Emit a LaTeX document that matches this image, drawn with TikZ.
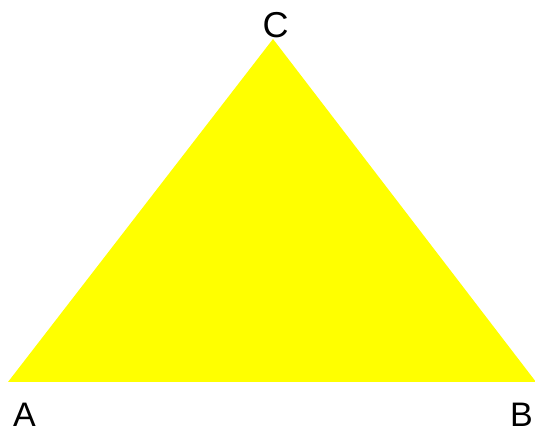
\documentclass[tikz,border=0pt]{standalone}
\usepackage{fontspec}
\setmainfont{Liberation Sans}
\definecolor{triyellow}{RGB}{255,255,0}
\begin{document}
\begin{tikzpicture}[x=1pt,y=1pt,
  vlabel/.style={font=\fontsize{36}{40}\selectfont, inner sep=0pt, text=black}]
\useasboundingbox (0,0) rectangle (535,430);
\coordinate (A) at (8,48);
\coordinate (B) at (536,48);
\coordinate (C) at (273,391);
\fill[triyellow] (A) -- (B) -- (C) -- cycle;
\node[vlabel, font=\fontsize{34}{38}\selectfont, anchor=base west] (la) at (13,3) {A};
\node[vlabel, font=\fontsize{34}{38}\selectfont, anchor=base west] (lb) at (510,3) {B};
\node[vlabel, anchor=base] (lc) at (275.5,392.2) {C};
\end{tikzpicture}
\end{document}
